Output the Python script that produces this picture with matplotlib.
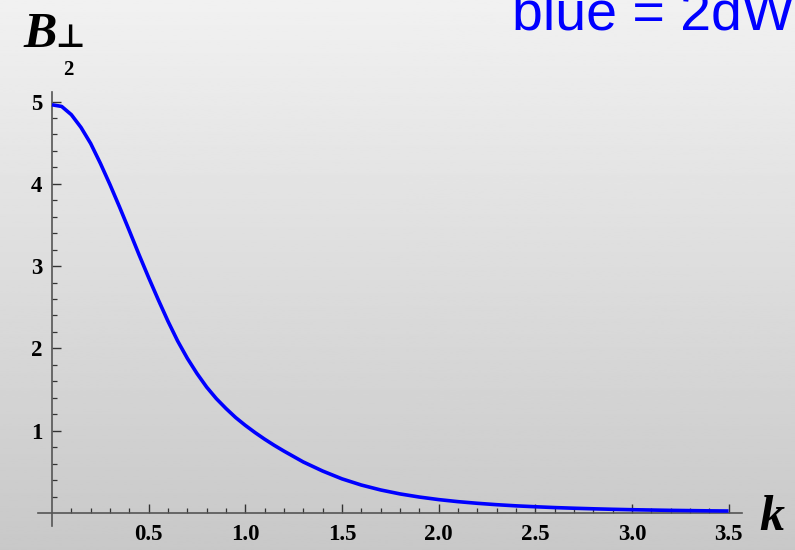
import numpy as np
import matplotlib
matplotlib.use("Agg")
import matplotlib.pyplot as plt

# B_perp^2 versus k
k = [0.0, 0.05, 0.1, 0.15, 0.2, 0.25, 0.3, 0.35, 0.4, 0.45, 0.5, 0.55, 0.6, 0.65,
     0.7, 0.75, 0.8, 0.85, 0.9, 0.95, 1.0, 1.05, 1.1, 1.15, 1.2, 1.3, 1.4, 1.5,
     1.6, 1.7, 1.8, 1.9, 2.0, 2.1, 2.2, 2.3, 2.4, 2.5, 2.6, 2.7, 2.8, 2.9, 3.0,
     3.1, 3.2, 3.3, 3.4, 3.5]
b_perp2 = [4.96, 4.94, 4.84, 4.685, 4.49, 4.25, 3.99, 3.715, 3.43, 3.14, 2.86, 2.59,
           2.33, 2.09, 1.88, 1.695, 1.53, 1.39, 1.27, 1.16, 1.065, 0.978, 0.897,
           0.822, 0.752, 0.62, 0.51, 0.415, 0.34, 0.28, 0.232, 0.194, 0.163, 0.138,
           0.118, 0.101, 0.087, 0.076, 0.066, 0.058, 0.051, 0.045, 0.040, 0.036,
           0.032, 0.029, 0.026, 0.024]

x_major = [0.5, 1.0, 1.5, 2.0, 2.5, 3.0, 3.5]
x_major_labels = ["0.5", "1.0", "1.5", "2.0", "2.5", "3.0", "3.5"]
y_major = [1, 2, 3, 4, 5]

W, H = 795, 550
fig = plt.figure(figsize=(W / 100, H / 100), dpi=100)

# grey vertical gradient behind everything
bg = fig.add_axes([0, 0, 1, 1])
grad = np.linspace(0.945, 0.785, 256).reshape(-1, 1)
bg.imshow(grad, aspect="auto", cmap="gray", vmin=0, vmax=1, extent=[0, 1, 0, 1])
bg.axis("off")

ax = fig.add_axes([0, 0, 1, 1])
ax.patch.set_visible(False)

# origin sits at pixel (52, 513); 193.3 px per unit in k, 82.3 px per unit in B
sx, sy = 193.3, 82.3
ax.set_xlim(-52 / sx, (W - 52) / sx)
ax.set_ylim((513 - H) / sy, 513 / sy)

ax.plot(k, b_perp2, color="#0000ff", lw=2.6, solid_capstyle="butt",
        solid_joinstyle="round", zorder=3)

for side in ("top", "right"):
    ax.spines[side].set_visible(False)
axis_col = "#555555"
ax.spines["left"].set_position(("data", 0))
ax.spines["bottom"].set_position(("data", 0))
ax.spines["left"].set_bounds(-0.16, 5.12)
ax.spines["bottom"].set_bounds(-0.07, 3.57)
for side in ("left", "bottom"):
    ax.spines[side].set_color(axis_col)
    ax.spines[side].set_linewidth(1.2)

ax.set_xticks(x_major)
ax.set_xticklabels(x_major_labels)
ax.set_xticks(np.arange(1, 36) / 10, minor=True)
ax.set_yticks(y_major)
ax.set_yticks(np.arange(1, 26) / 5, minor=True)

ax.tick_params(which="major", direction="in", length=6.5, width=1.0, color="#333333")
ax.tick_params(which="minor", direction="in", length=3.5, width=0.9, color="#333333")
ax.tick_params(axis="x", which="major", pad=8)
ax.tick_params(axis="y", which="major", pad=7)
for lab in ax.get_xticklabels() + ax.get_yticklabels():
    lab.set_fontfamily("Liberation Serif")
    lab.set_fontweight("bold")
    lab.set_fontsize(16.5)

# axis labels
fig.text(23 / W, 1 - 47 / H, "B", family="Liberation Serif", weight="bold",
         style="italic", size=36, va="baseline", ha="left")
fig.text(55 / W, 1 - 47 / H, "\u22a5", family="DejaVu Sans", weight="bold",
         size=23, va="baseline", ha="left")
fig.text(68 / W, 1 - 70 / H, "2", family="Liberation Serif", weight="bold",
         size=15, va="center", ha="center")
fig.text(759 / W, 1 - 530 / H, "k", family="Liberation Serif", weight="bold",
         style="italic", size=36, va="baseline", ha="left")

fig.text(512 / W, 1 - 30 / H, "blue = 2dW", family="Liberation Sans",
         color="#0000ff", size=40, va="baseline", ha="left")

fig.savefig("out.png", dpi=100)
